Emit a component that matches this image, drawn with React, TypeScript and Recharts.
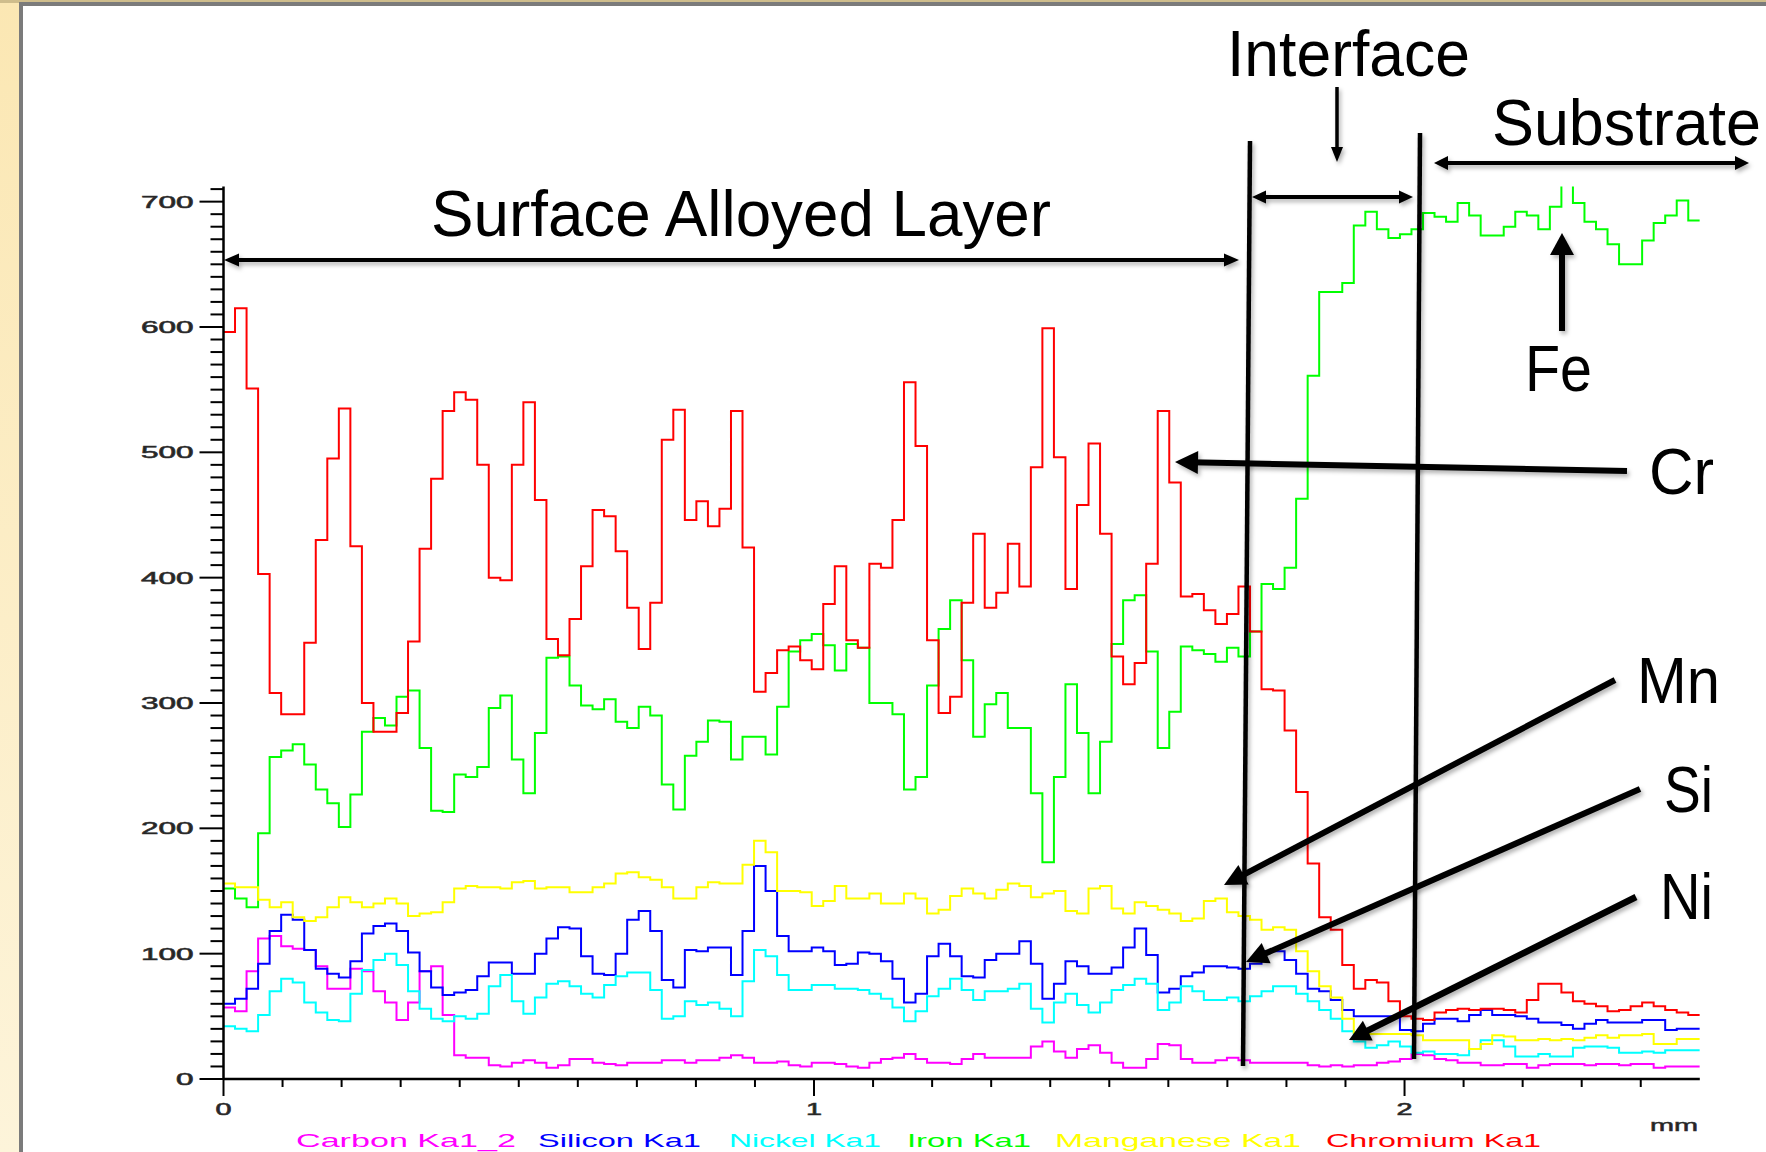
import React from 'react'
import { LineChart, Line, XAxis, YAxis } from 'recharts'

const W = 1766
const H = 1152
const FONT = '"Liberation Sans", Arial, Helvetica, sans-serif'

// EDS line scan: 128 steps over 2.5 mm, counts per step
const SCAN_MM = 2.5
const STEPS = 128

const chromium = [
  596, 615, 551, 403, 308, 291, 291, 348, 430, 495,
  535, 425, 300, 277, 277, 292, 349, 423, 479, 533,
  548, 542, 490, 400, 398, 490, 540, 462, 351, 338,
  367, 409, 454, 449, 421, 376, 343, 380, 510, 534,
  446, 461, 441, 455, 533, 424, 309, 324, 342, 345,
  334, 327, 379, 409, 350, 344, 411, 408, 446, 556,
  505, 350, 292, 305, 380, 435, 376, 388, 427, 393,
  488, 599, 496, 391, 458, 507, 435, 337, 315, 332,
  411, 533, 476, 385, 387, 374, 363, 371, 393, 357,
  311, 310, 278, 229, 172, 129, 119, 91, 72, 79,
  77, 62, 50, 48, 47, 53, 55, 56, 55, 56,
  56, 55, 53, 63, 76, 76, 69, 62, 60, 58,
  54, 55, 58, 61, 58, 55, 53, 51,
]

const iron = [
  152, 144, 137, 196, 257, 262, 267, 251, 231, 220,
  201, 227, 277, 288, 282, 305, 310, 264, 214, 213,
  243, 241, 249, 296, 306, 255, 228, 276, 336, 337,
  314, 298, 295, 303, 285, 280, 297, 290, 235, 215,
  258, 269, 286, 285, 255, 273, 273, 259, 297, 341,
  350, 355, 346, 326, 347, 344, 300, 300, 291, 231,
  241, 314, 359, 382, 334, 273, 299, 308, 280, 280,
  228, 173, 241, 315, 276, 228, 269, 347, 382, 386,
  341, 264, 293, 345, 342, 339, 333, 344, 337, 357,
  395, 391, 408, 463, 561, 628, 628, 635, 681, 692,
  678, 671, 674, 678, 691, 688, 684, 699, 689, 673,
  673, 680, 692, 689, 678, 696, 714, 699, 684, 678,
  666, 650, 650, 669, 683, 689, 701, 685,
]

const manganese = [
  156, 153, 153, 143, 137, 141, 129, 126, 129, 137,
  145, 141, 137, 140, 144, 140, 130, 132, 133, 141,
  152, 154, 153, 153, 152, 157, 158, 152, 153, 153,
  149, 149, 153, 156, 164, 165, 161, 159, 153, 144,
  144, 153, 157, 156, 156, 171, 190, 181, 150, 150,
  149, 138, 142, 154, 144, 144, 148, 140, 140, 148,
  144, 132, 135, 146, 152, 148, 144, 151, 156, 154,
  145, 148, 150, 134, 132, 152, 154, 136, 132, 141,
  138, 135, 132, 126, 128, 142, 144, 133, 130, 127,
  119, 121, 119, 102, 86, 74, 65, 48, 37, 36,
  36, 36, 36, 35, 31, 31, 31, 31, 24, 28,
  35, 34, 31, 31, 32, 31, 32, 31, 33, 35,
  33, 35, 35, 36, 28, 28, 32, 32,
]

const silicon = [
  60, 64, 72, 92, 118, 131, 127, 103, 88, 84,
  81, 94, 116, 122, 124, 118, 101, 86, 73, 67,
  69, 71, 82, 93, 93, 84, 84, 100, 112, 121,
  120, 98, 84, 83, 100, 127, 134, 118, 79, 73,
  103, 102, 105, 105, 83, 118, 170, 150, 114, 102,
  102, 105, 102, 91, 92, 101, 100, 94, 80, 61,
  68, 98, 108, 98, 82, 81, 95, 100, 100, 110,
  92, 64, 76, 94, 90, 84, 84, 89, 105, 120,
  99, 69, 72, 82, 85, 90, 90, 89, 88, 92,
  102, 102, 95, 84, 72, 70, 63, 55, 50, 50,
  50, 50, 39, 38, 44, 48, 48, 46, 51, 55,
  51, 51, 50, 48, 45, 45, 43, 40, 44, 47,
  45, 45, 45, 47, 47, 39, 40, 40,
]

const nickel = [
  42, 40, 38, 51, 70, 80, 77, 61, 53, 47,
  46, 68, 87, 95, 100, 91, 70, 56, 48, 46,
  50, 48, 52, 74, 83, 62, 52, 65, 76, 78,
  74, 68, 65, 75, 82, 85, 85, 71, 48, 50,
  62, 59, 61, 56, 50, 78, 103, 98, 83, 71,
  71, 75, 75, 72, 72, 71, 68, 64, 57, 46,
  54, 66, 72, 80, 71, 63, 70, 70, 72, 76,
  56, 45, 61, 68, 59, 53, 61, 71, 75, 80,
  76, 55, 61, 74, 70, 63, 63, 65, 62, 66,
  70, 74, 74, 68, 62, 55, 48, 38, 30, 25,
  27, 30, 26, 21, 22, 20, 20, 19, 24, 31,
  31, 26, 18, 18, 20, 18, 18, 25, 26, 26,
  25, 21, 21, 22, 21, 23, 23, 23,
]

const carbon = [
  57, 54, 86, 112, 114, 106, 104, 103, 90, 72,
  72, 88, 86, 70, 61, 47, 61, 86, 90, 51,
  19, 17, 17, 11, 10, 13, 15, 13, 9, 11,
  16, 16, 13, 12, 11, 13, 13, 13, 15, 15,
  13, 15, 15, 17, 19, 17, 13, 13, 14, 11,
  10, 13, 13, 12, 10, 9, 13, 16, 17, 20,
  16, 13, 13, 12, 16, 20, 17, 17, 17, 17,
  26, 30, 22, 17, 24, 27, 21, 13, 9, 9,
  16, 28, 27, 16, 13, 13, 15, 17, 15, 13,
  13, 13, 13, 13, 11, 10, 11, 10, 11, 11,
  13, 14, 16, 20, 19, 16, 15, 13, 13, 11,
  11, 12, 12, 9, 11, 12, 12, 12, 11, 12,
  12, 11, 12, 12, 9, 10, 10, 10,
]

const yTicks = Array.from({ length: 72 }, (_, i) => i * 10)
const xTicks = Array.from({ length: 25 }, (_, i) => i / 10)

const SERIES = [
  { key: 'carbon', name: 'Carbon Ka1_2', color: '#ff00ff', values: carbon },
  { key: 'silicon', name: 'Silicon Ka1', color: '#0000ff', values: silicon },
  { key: 'nickel', name: 'Nickel Ka1', color: '#00ffff', values: nickel },
  { key: 'iron', name: 'Iron Ka1', color: '#00ff00', values: iron },
  { key: 'manganese', name: 'Manganese Ka1', color: '#ffff00', values: manganese },
  { key: 'chromium', name: 'Chromium Ka1', color: '#ff0000', values: chromium },
]

// one extra row at the scan end so the last step is drawn
const rows = Array.from({ length: STEPS + 1 }, (_, i) => {
  const k = Math.min(i, STEPS - 1)
  const row: Record<string, number> = { mm: (i * SCAN_MM) / STEPS }
  SERIES.forEach((s) => {
    row[s.key] = s.values[k]
  })
  return row
})

// legend strip along the bottom edge (left x, width)
const legendPos = [
  [296, 220],
  [538, 163],
  [729, 152],
  [907, 124],
  [1055, 246],
  [1326, 215],
]

function YTick(props: any) {
  const { x, y, payload } = props
  const v = payload.value
  const major = v % 100 === 0
  const len = major ? 24 : 13
  const label = String(v)
  const tw = label.length * 17.5
  return (
    <g>
      <line x1={x - len} y1={y} x2={x} y2={y} stroke="#000" strokeWidth={2} />
      {major && (
        <text
          x={x - len - 6 - tw}
          y={y + 6}
          fontSize={16}
          fontFamily={FONT}
          fill="#222"
          stroke="#333"
          strokeWidth={0.6}
          textLength={tw}
          lengthAdjust="spacingAndGlyphs"
        >
          {label}
        </text>
      )}
    </g>
  )
}

function XTick(props: any) {
  const { x, y, payload } = props
  const v = payload.value
  const major = Math.abs(v - Math.round(v)) < 1e-6
  const len = major ? 17 : 8
  return (
    <g>
      <line x1={x} y1={y} x2={x} y2={y + len} stroke="#000" strokeWidth={2} />
      {major && (
        <text
          x={x - 8}
          y={y + 36}
          fontSize={16}
          fontFamily={FONT}
          fill="#222"
          stroke="#333"
          strokeWidth={0.6}
          textLength={16}
          lengthAdjust="spacingAndGlyphs"
        >
          {Math.round(v)}
        </text>
      )}
    </g>
  )
}

function Arrow({
  x1, y1, x2, y2, w, head, both,
}: {
  x1: number; y1: number; x2: number; y2: number; w: number; head?: [number, number]; both?: boolean
}) {
  const dx = x2 - x1
  const dy = y2 - y1
  const L = Math.hypot(dx, dy)
  const ux = dx / L
  const uy = dy / L
  const px = -uy
  const py = ux
  const tri = (tx: number, ty: number, s: number) => {
    const [hl, hw] = head as [number, number]
    const bx = tx - s * ux * hl
    const by = ty - s * uy * hl
    return `${tx},${ty} ${bx + (px * hw) / 2},${by + (py * hw) / 2} ${bx - (px * hw) / 2},${by - (py * hw) / 2}`
  }
  const cut = head ? head[0] * 0.7 : 0
  const sx = both ? x1 + ux * cut : x1
  const sy = both ? y1 + uy * cut : y1
  const ex = x2 - ux * cut
  const ey = y2 - uy * cut
  return (
    <g filter="url(#shadow)">
      <line x1={sx} y1={sy} x2={ex} y2={ey} stroke="#000" strokeWidth={w} />
      {head && <polygon points={tri(x2, y2, 1)} fill="#000" />}
      {head && both && <polygon points={tri(x1, y1, -1)} fill="#000" />}
    </g>
  )
}

function Label({ x, y, w, text }: { x: number; y: number; w: number; text: string }) {
  return (
    <text
      x={x}
      y={y}
      fontSize={64}
      fontFamily={FONT}
      fill="#000"
      textLength={w}
      lengthAdjust="spacingAndGlyphs"
    >
      {text}
    </text>
  )
}

export default function App() {
  return (
    <div
      style={{
        position: 'absolute',
        left: 0,
        top: 0,
        width: W,
        height: H,
        overflow: 'hidden',
        background: 'linear-gradient(to bottom, #fbe7b3, #fdf4da)',
        fontFamily: FONT,
      }}
    >
      <div style={{ position: 'absolute', left: 0, top: 0, width: W, height: 3, background: '#cfbd8c' }} />
      <div
        style={{
          position: 'absolute',
          left: 19,
          top: 2,
          width: W + 40,
          height: H + 40,
          background: '#fff',
          border: '4px solid #7b7b7b',
        }}
      />
      <div style={{ position: 'absolute', left: 0, top: 0 }}>
        <LineChart width={W} height={H} data={rows} margin={{ top: 186.6, right: 66.2, bottom: 33, left: 163.5 }}>
          <XAxis
            dataKey="mm"
            type="number"
            domain={[0, SCAN_MM]}
            ticks={xTicks}
            interval={0}
            tick={(p: any) => <XTick {...p} />}
            tickLine={false}
            tickSize={0}
            tickMargin={0}
            axisLine={{ stroke: '#000', strokeWidth: 2.5 }}
            height={40}
            allowDataOverflow
          />
          <YAxis
            type="number"
            domain={[0, 712]}
            ticks={yTicks}
            interval={0}
            tick={(p: any) => <YTick {...p} />}
            tickLine={false}
            tickSize={0}
            tickMargin={0}
            axisLine={{ stroke: '#000', strokeWidth: 2.5 }}
            width={60}
            allowDataOverflow
          />
          {SERIES.map((s) => (
            <Line
              key={s.key}
              dataKey={s.key}
              name={s.name}
              type="stepAfter"
              stroke={s.color}
              strokeWidth={2}
              dot={false}
              activeDot={false}
              isAnimationActive={false}
            />
          ))}
        </LineChart>
      </div>
      <svg width={W} height={H} style={{ position: 'absolute', left: 0, top: 0, pointerEvents: 'none' }}>
        <defs>
          <filter id="shadow" filterUnits="userSpaceOnUse" x={0} y={0} width={W} height={H}>
            <feDropShadow dx={2} dy={3} stdDeviation={2} floodColor="#000" floodOpacity={0.3} />
          </filter>
        </defs>

        {/* layer boundaries */}
        <Arrow x1={1250} y1={141} x2={1243} y2={1066} w={4.5} />
        <Arrow x1={1420} y1={133} x2={1414} y2={1059} w={4.5} />

        {/* region spans */}
        <Arrow x1={224} y1={260} x2={1239} y2={260} w={4} head={[15, 13]} both />
        <Arrow x1={1252} y1={197} x2={1413} y2={197} w={4} head={[14, 13]} both />
        <Arrow x1={1434} y1={163} x2={1749} y2={163} w={4} head={[14, 14]} both />
        <Arrow x1={1337} y1={87} x2={1337} y2={162} w={3.5} head={[15, 12]} />

        {/* element pointers */}
        <Arrow x1={1562} y1={331} x2={1562} y2={233} w={6} head={[22, 24]} />
        <Arrow x1={1627} y1={471} x2={1175} y2={462} w={6} head={[23, 23]} />
        <Arrow x1={1615} y1={680} x2={1224} y2={885} w={6} head={[22, 22]} />
        <Arrow x1={1640} y1={789} x2={1246} y2={962} w={6} head={[22, 22]} />
        <Arrow x1={1636} y1={897} x2={1349} y2={1040} w={6.5} head={[21, 22]} />

        <Label x={431} y={236} w={620} text="Surface Alloyed Layer" />
        <Label x={1227} y={76} w={243} text="Interface" />
        <Label x={1492} y={145} w={269} text="Substrate" />
        <Label x={1525} y={391} w={67} text="Fe" />
        <Label x={1649} y={494} w={65} text="Cr" />
        <Label x={1637} y={703} w={83} text="Mn" />
        <Label x={1664} y={812} w={49} text="Si" />
        <Label x={1660} y={919} w={53} text="Ni" />

        <text x={1650} y={1131} fontSize={16} fontFamily={FONT} fill="#222" stroke="#333" strokeWidth={0.5} textLength={48} lengthAdjust="spacingAndGlyphs">
          mm
        </text>

        {SERIES.map((s, i) => (
          <text
            key={s.key}
            x={legendPos[i][0]}
            y={1147}
            fontSize={19}
            fontFamily={FONT}
            fill={s.color}
            textLength={legendPos[i][1]}
            lengthAdjust="spacingAndGlyphs"
          >
            {s.name}
          </text>
        ))}
      </svg>
    </div>
  )
}
